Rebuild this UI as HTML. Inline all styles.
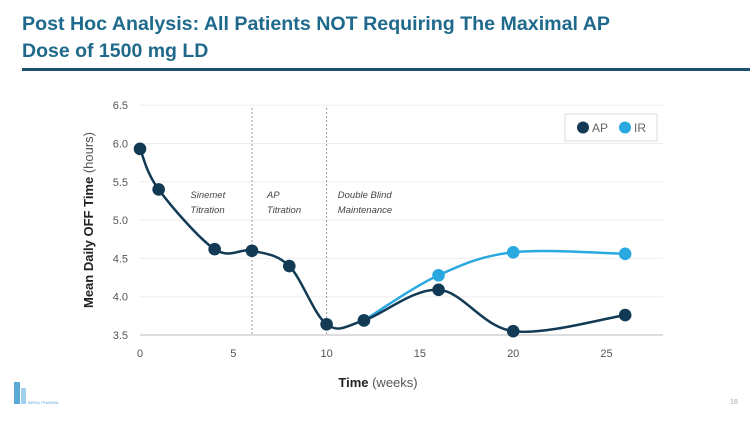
<!DOCTYPE html>
<html><head><meta charset="utf-8"><style>
body{margin:0;width:750px;height:422px;background:#fff;overflow:hidden;font-family:"Liberation Sans",sans-serif}
</style></head><body>
<svg width="750" height="422">
<text x="22" y="30" font-size="19.5" font-weight="bold" fill="#1f6a8c" textLength="588" lengthAdjust="spacingAndGlyphs">Post Hoc Analysis: All Patients NOT Requiring The Maximal AP</text>
<text x="22" y="57" font-size="19.5" font-weight="bold" fill="#1f6a8c">Dose of 1500 mg LD</text>
<rect x="22" y="68" width="728" height="3" fill="#1d4f70"/>
<g id="chart"></g>
<g>
<rect x="14" y="382" width="6" height="22" fill="#5aa9d6"/><rect x="21" y="388" width="5" height="16" fill="#9fd0ee"/>
<text x="28" y="404" font-size="4" fill="#5aa9d6">IMPAX PHARMA</text></g>
<text x="730" y="404" font-size="7" fill="#aaa">18</text>
</svg>
<script>
const yTicks=[3.5,4.0,4.5,5.0,5.5,6.0,6.5];
const xTicks=[0,5,10,15,20,25];
const apWeeks=[0,1,4,6,8,10,12,16,20,26];
const apValues=[5.93,5.4,4.62,4.6,4.4,3.64,3.69,4.09,3.55,3.76];
const irWeeks=[12,16,20,26];
const irValues=[3.69,4.28,4.58,4.56];
const phaseWeeks=[6,10];
const phaseLabels=[["Sinemet","Titration",2.7],["AP","Titration",6.8],["Double Blind","Maintenance",10.6]];
const NS="http://www.w3.org/2000/svg";
const g=document.getElementById('chart');
const X=w=>140+w*18.66, Y=v=>335-(v-3.5)*76.6;
function mk(t,a,txt){const e=document.createElementNS(NS,t);for(const k in a)e.setAttribute(k,a[k]);if(txt!=null)e.textContent=txt;g.appendChild(e);return e;}
yTicks.forEach(v=>{
 const l=mk('line',{x1:140,x2:663,y1:Y(v),y2:Y(v),stroke:v===3.5?'#bbb':'#eee','stroke-width':1});
 
 const t=mk('text',{x:128,y:Y(v)+4,'font-size':11,fill:'#555','text-anchor':'end'},v.toFixed(1));
 
});
xTicks.forEach(w=>{
 const t=mk('text',{x:X(w),y:357,'font-size':11,fill:'#555','text-anchor':'middle'},String(w));
 
});
phaseWeeks.forEach(w=>{
 const l=mk('line',{x1:X(w),x2:X(w),y1:108,y2:335,stroke:'#999','stroke-dasharray':'2,2','stroke-width':1});
 
});
phaseLabels.forEach(p=>{
 const t=mk('text',{x:X(p[2]),y:198,'font-size':9.5,fill:'#444','font-style':'italic'},p[0]);
 
 const t2=mk('text',{x:X(p[2]),y:213,'font-size':9.5,fill:'#444','font-style':'italic'},p[1]);
 
});
function path(xs,ys){
 const P=xs.map((x,i)=>[X(x),Y(ys[i])]);let d='M'+P[0][0]+','+P[0][1];
 for(let i=0;i<P.length-1;i++){const p0=P[i-1]||P[i],p1=P[i],p2=P[i+1],p3=P[i+2]||p2;const k=6;
  d+=` C${p1[0]+(p2[0]-p0[0])/k},${p1[1]+(p2[1]-p0[1])/k} ${p2[0]-(p3[0]-p1[0])/k},${p2[1]-(p3[1]-p1[1])/k} ${p2[0]},${p2[1]}`;}
 return d;}
function series(xs,ys,c,name){
 const p=mk('path',{d:path(xs,ys),fill:'none',stroke:c,'stroke-width':2.5});
 
 xs.forEach((x,i)=>{const m=mk('circle',{cx:X(x),cy:Y(ys[i]),r:6.3,fill:c});
  });
}
series(irWeeks,irValues,'#2aa8e0','ir');
series(apWeeks,apValues,'#123a55','ap');
const lb=mk('rect',{x:565,y:114,width:92,height:27,fill:'#fff',stroke:'#ddd'});

[['AP','#123a55',583],['IR','#2aa8e0',625]].forEach(e=>{
 const c=mk('circle',{cx:e[2],cy:127.5,r:6,fill:e[1]});
 const t=mk('text',{x:e[2]+9,y:132,'font-size':12,fill:'#666'},e[0]);
});
const xt=mk('text',{x:378,y:387,'font-size':13,fill:'#222','text-anchor':'middle'});

xt.innerHTML='<tspan font-weight="bold">Time</tspan><tspan fill="#555"> (weeks)</tspan>';
const yt=mk('text',{x:0,y:0,'font-size':13,fill:'#222','text-anchor':'middle',transform:'translate(93,220) rotate(-90)'});

yt.innerHTML='<tspan font-weight="bold">Mean Daily OFF Time</tspan><tspan fill="#555"> (hours)</tspan>';
</script>
</body></html>
